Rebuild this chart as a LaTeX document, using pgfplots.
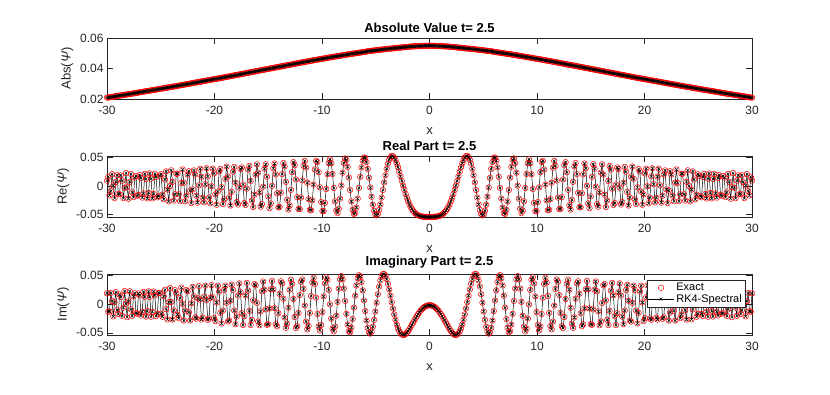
\documentclass[border=0pt]{standalone}
\usepackage{fontspec}
\setmainfont{Liberation Sans}
\usepackage{pgfplots}
\usepackage{pgfplotstable}
\pgfplotsset{compat=1.18}
\definecolor{axgray}{RGB}{38,38,38}

% psi(x) at t = 2.5: x, |psi|, Re psi, Im psi
\pgfplotstableread{
x a re im
-30 0.0209 0.0094 0.0186
-29.8828 0.0210 0.0161 -0.0134
-29.7656 0.0211 -0.0167 -0.0129
-29.6484 0.0213 -0.0092 0.0192
-29.5313 0.0214 0.0208 0.0051
-29.4141 0.0215 0.0009 -0.0215
-29.2969 0.0217 -0.0215 0.0032
-29.1797 0.0218 0.0070 0.0206
-29.0625 0.0219 0.0192 -0.0107
-28.9453 0.0221 -0.0139 -0.0173
-28.8281 0.0222 -0.0148 0.0165
-28.7109 0.0223 0.0187 0.0122
-28.5938 0.0225 0.0093 -0.0205
-28.4766 0.0226 -0.0216 -0.0065
-28.3594 0.0227 -0.0034 0.0225
-28.2422 0.0229 0.0229 0.0006
-28.125 0.0230 -0.0022 -0.0229
-28.0078 0.0231 -0.0226 0.0047
-27.8906 0.0233 0.0072 0.0222
-27.7734 0.0234 0.0214 -0.0093
-27.6563 0.0235 -0.0114 -0.0206
-27.5391 0.0237 -0.0197 0.0132
-27.4219 0.0238 0.0148 0.0187
-27.3047 0.0239 0.0177 -0.0161
-27.1875 0.0241 -0.0173 -0.0167
-27.0703 0.0242 -0.0158 0.0183
-26.9531 0.0244 0.0192 0.0150
-26.8359 0.0245 0.0142 -0.0200
-26.7188 0.0246 -0.0206 -0.0135
-26.6016 0.0248 -0.0131 0.0211
-26.4844 0.0249 0.0215 0.0126
-26.3672 0.0251 0.0124 -0.0218
-26.25 0.0252 -0.0220 -0.0122
-26.1328 0.0253 -0.0123 0.0221
-26.0156 0.0255 0.0222 0.0125
-25.8984 0.0256 0.0129 -0.0221
-25.7813 0.0258 -0.0220 -0.0135
-25.6641 0.0259 -0.0141 0.0218
-25.5469 0.0260 0.0214 0.0150
-25.4297 0.0262 0.0159 -0.0209
-25.3125 0.0263 -0.0201 -0.0169
-25.1953 0.0265 -0.0182 0.0193
-25.0781 0.0266 0.0182 0.0195
-24.9609 0.0268 0.0208 -0.0169
-24.8438 0.0269 -0.0154 -0.0221
-24.7266 0.0270 -0.0235 0.0135
-24.6094 0.0272 0.0114 0.0247
-24.4922 0.0273 0.0258 -0.0090
-24.375 0.0275 -0.0063 -0.0268
-24.2578 0.0276 -0.0274 0.0032
-24.1406 0.0278 -0.0001 0.0278
-24.0234 0.0279 0.0276 0.0035
-23.9063 0.0280 0.0072 -0.0271
-23.7891 0.0282 -0.0260 -0.0110
-23.6719 0.0283 -0.0147 0.0241
-23.5547 0.0285 0.0218 0.0184
-23.4375 0.0286 0.0217 -0.0186
-23.3203 0.0288 -0.0148 -0.0247
-23.2031 0.0289 -0.0270 0.0103
-23.0859 0.0291 0.0053 0.0286
-22.9688 0.0292 0.0292 0.0002
-22.8516 0.0294 0.0059 -0.0288
-22.7344 0.0295 -0.0271 -0.0116
-22.6172 0.0297 -0.0171 0.0242
-22.5 0.0298 0.0201 0.0221
-22.3828 0.0300 0.0261 -0.0147
-22.2656 0.0301 -0.0083 -0.0289
-22.1484 0.0303 -0.0303 0.0013
-22.0313 0.0304 -0.0061 0.0298
-21.9141 0.0306 0.0275 0.0134
-21.7969 0.0307 0.0201 -0.0232
-21.6797 0.0309 -0.0172 -0.0256
-21.5625 0.0310 -0.0295 0.0097
-21.4453 0.0312 0.0012 0.0312
-21.3281 0.0313 0.0304 0.0078
-21.2109 0.0315 0.0164 -0.0270
-21.0938 0.0316 -0.0209 -0.0237
-20.9766 0.0318 -0.0291 0.0128
-20.8594 0.0319 0.0031 0.0318
-20.7422 0.0321 0.0313 0.0071
-20.625 0.0322 0.0169 -0.0274
-20.5078 0.0324 -0.0204 -0.0252
-20.3906 0.0325 -0.0306 0.0108
-20.2734 0.0327 -0.0005 0.0327
-20.1563 0.0328 0.0306 0.0119
-20.0391 0.0330 0.0222 -0.0245
-19.9219 0.0331 -0.0148 -0.0297
-19.8047 0.0333 -0.0332 0.0028
-19.6875 0.0334 -0.0099 0.0319
-19.5703 0.0336 0.0258 0.0216
-19.4531 0.0337 0.0300 -0.0154
-19.3359 0.0339 -0.0023 -0.0339
-19.2188 0.0340 -0.0320 -0.0115
-19.1016 0.0342 -0.0237 0.0246
-18.9844 0.0344 0.0126 0.0320
-18.8672 0.0345 0.0344 0.0021
-18.75 0.0347 0.0167 -0.0304
-18.6328 0.0348 -0.0202 -0.0284
-18.5156 0.0350 -0.0346 0.0057
-18.3984 0.0351 -0.0105 0.0335
-18.2813 0.0353 0.0253 0.0246
-18.1641 0.0355 0.0337 -0.0112
-18.0469 0.0356 0.0057 -0.0352
-17.9297 0.0358 -0.0284 -0.0218
-17.8125 0.0359 -0.0328 0.0146
-17.6953 0.0361 -0.0031 0.0359
-17.5781 0.0362 0.0299 0.0205
-17.4609 0.0364 0.0327 -0.0159
-17.3438 0.0366 0.0027 -0.0365
-17.2266 0.0367 -0.0302 -0.0210
-17.1094 0.0369 -0.0336 0.0150
-16.9922 0.0370 -0.0047 0.0367
-16.875 0.0372 0.0289 0.0234
-16.7578 0.0374 0.0354 -0.0120
-16.6406 0.0375 0.0090 -0.0365
-16.5234 0.0377 -0.0258 -0.0275
-16.4063 0.0378 -0.0373 0.0064
-16.2891 0.0380 -0.0155 0.0347
-16.1719 0.0382 0.0201 0.0325
-16.0547 0.0383 0.0382 0.0019
-15.9375 0.0385 0.0236 -0.0304
-15.8203 0.0386 -0.0111 -0.0369
-15.7031 0.0388 -0.0367 -0.0127
-15.5859 0.0390 -0.0321 0.0222
-15.4688 0.0391 -0.0013 0.0391
-15.3516 0.0393 0.0306 0.0247
-15.2344 0.0394 0.0383 -0.0093
-15.1172 0.0396 0.0162 -0.0361
-15 0.0397 -0.0184 -0.0352
-14.8828 0.0399 -0.0392 -0.0077
-14.7656 0.0401 -0.0307 0.0257
-14.6484 0.0402 0.0003 0.0402
-14.5313 0.0404 0.0312 0.0256
-14.4141 0.0405 0.0398 -0.0073
-14.2969 0.0407 0.0205 -0.0351
-14.1797 0.0409 -0.0130 -0.0387
-14.0625 0.0410 -0.0378 -0.0159
-13.9453 0.0412 -0.0373 0.0176
-13.8281 0.0413 -0.0120 0.0395
-13.7109 0.0415 0.0210 0.0357
-13.5938 0.0416 0.0406 0.0091
-13.4766 0.0418 0.0347 -0.0233
-13.3594 0.0420 0.0073 -0.0414
-13.2422 0.0421 -0.0246 -0.0342
-13.125 0.0423 -0.0418 -0.0065
-13.0078 0.0424 -0.0343 0.0249
-12.8906 0.0426 -0.0070 0.0421
-12.7734 0.0427 0.0243 0.0351
-12.6563 0.0429 0.0421 0.0087
-12.5391 0.0431 0.0367 -0.0226
-12.4219 0.0432 0.0115 -0.0417
-12.3047 0.0434 -0.0198 -0.0386
-12.1875 0.0435 -0.0407 -0.0155
-12.0703 0.0437 -0.0408 0.0155
-11.9531 0.0439 -0.0205 0.0388
-11.8359 0.0440 0.0099 0.0428
-11.7188 0.0442 0.0355 0.0263
-11.6016 0.0443 0.0442 -0.0027
-11.4844 0.0445 0.0324 -0.0305
-11.3672 0.0446 0.0057 -0.0442
-11.25 0.0448 -0.0234 -0.0383
-11.1328 0.0449 -0.0422 -0.0155
-11.0156 0.0451 -0.0430 0.0140
-10.8984 0.0452 -0.0255 0.0373
-10.7813 0.0454 0.0023 0.0454
-10.6641 0.0455 0.0291 0.0350
-10.5469 0.0457 0.0444 0.0109
-10.4297 0.0458 0.0424 -0.0174
-10.3125 0.0460 0.0244 -0.0390
-10.1953 0.0461 -0.0025 -0.0460
-10.0781 0.0463 -0.0285 -0.0365
-9.9609 0.0464 -0.0443 -0.0140
-9.8438 0.0465 -0.0445 0.0132
-9.7266 0.0467 -0.0299 0.0359
-9.6094 0.0468 -0.0054 0.0465
-9.4922 0.0470 0.0208 0.0421
-9.375 0.0471 0.0402 0.0245
-9.2578 0.0473 0.0473 -0.0006
-9.1406 0.0474 0.0401 -0.0253
-9.0234 0.0475 0.0212 -0.0426
-8.9063 0.0477 -0.0036 -0.0476
-8.7891 0.0478 -0.0272 -0.0393
-8.6719 0.0480 -0.0435 -0.0204
-8.5547 0.0481 -0.0480 0.0037
-8.4375 0.0482 -0.0402 0.0267
-8.3203 0.0484 -0.0224 0.0429
-8.2031 0.0485 0.0007 0.0485
-8.0859 0.0487 0.0235 0.0427
-7.9688 0.0488 0.0406 0.0270
-7.8516 0.0489 0.0486 0.0054
-7.7344 0.0491 0.0460 -0.0171
-7.6172 0.0492 0.0338 -0.0358
-7.5 0.0493 0.0147 -0.0471
-7.3828 0.0495 -0.0071 -0.0490
-7.2656 0.0496 -0.0274 -0.0413
-7.1484 0.0497 -0.0423 -0.0261
-7.0313 0.0498 -0.0494 -0.0063
-6.9141 0.0500 -0.0479 0.0144
-6.7969 0.0501 -0.0383 0.0323
-6.6797 0.0502 -0.0225 0.0449
-6.5625 0.0503 -0.0034 0.0502
-6.4453 0.0505 0.0161 0.0479
-6.3281 0.0506 0.0329 0.0385
-6.2109 0.0507 0.0448 0.0238
-6.0938 0.0508 0.0504 0.0061
-5.9766 0.0510 0.0495 -0.0122
-5.8594 0.0511 0.0423 -0.0288
-5.7422 0.0513 0.0300 -0.0416
-5.625 0.0514 0.0144 -0.0494
-5.5078 0.0515 -0.0026 -0.0515
-5.3906 0.0516 -0.0190 -0.0480
-5.2734 0.0517 -0.0332 -0.0396
-5.1563 0.0518 -0.0438 -0.0275
-5.0391 0.0519 -0.0502 -0.0131
-4.9219 0.0520 -0.0519 0.0022
-4.8047 0.0521 -0.0492 0.0171
-4.6875 0.0522 -0.0425 0.0303
-4.5703 0.0523 -0.0326 0.0409
-4.4531 0.0524 -0.0205 0.0482
-4.3359 0.0525 -0.0072 0.0520
-4.2188 0.0526 0.0062 0.0522
-4.1016 0.0527 0.0189 0.0492
-3.9844 0.0528 0.0302 0.0433
-3.8672 0.0529 0.0396 0.0351
-3.75 0.0530 0.0466 0.0253
-3.6328 0.0530 0.0510 0.0144
-3.5156 0.0531 0.0530 0.0033
-3.3984 0.0532 0.0527 -0.0078
-3.2813 0.0533 0.0501 -0.0181
-3.1641 0.0534 0.0458 -0.0275
-3.0469 0.0535 0.0400 -0.0356
-2.9297 0.0536 0.0331 -0.0422
-2.8125 0.0536 0.0253 -0.0473
-2.6953 0.0537 0.0172 -0.0508
-2.5781 0.0538 0.0090 -0.0531
-2.4609 0.0539 0.0009 -0.0539
-2.3438 0.0540 -0.0068 -0.0536
-2.2266 0.0541 -0.0141 -0.0522
-2.1094 0.0541 -0.0207 -0.0500
-1.9922 0.0542 -0.0268 -0.0471
-1.875 0.0543 -0.0321 -0.0438
-1.7578 0.0544 -0.0368 -0.0401
-1.6406 0.0544 -0.0406 -0.0362
-1.5234 0.0545 -0.0440 -0.0322
-1.4063 0.0545 -0.0466 -0.0282
-1.2891 0.0546 -0.0489 -0.0244
-1.1719 0.0546 -0.0506 -0.0208
-1.0547 0.0547 -0.0519 -0.0174
-0.9375 0.0547 -0.0528 -0.0143
-0.8203 0.0547 -0.0535 -0.0115
-0.7031 0.0548 -0.0541 -0.0090
-0.5859 0.0548 -0.0544 -0.0069
-0.4688 0.0548 -0.0545 -0.0052
-0.3516 0.0549 -0.0548 -0.0039
-0.2344 0.0549 -0.0548 -0.0028
-0.1172 0.0549 -0.0549 -0.0023
0 0.0549 -0.0548 -0.0021
0.1172 0.0549 -0.0549 -0.0023
0.2344 0.0549 -0.0548 -0.0028
0.3516 0.0549 -0.0548 -0.0039
0.4688 0.0548 -0.0545 -0.0052
0.5859 0.0548 -0.0544 -0.0069
0.7031 0.0548 -0.0541 -0.0090
0.8203 0.0547 -0.0535 -0.0115
0.9375 0.0547 -0.0528 -0.0143
1.0547 0.0547 -0.0519 -0.0174
1.1719 0.0546 -0.0506 -0.0208
1.2891 0.0546 -0.0489 -0.0244
1.4063 0.0545 -0.0466 -0.0282
1.5234 0.0545 -0.0440 -0.0322
1.6406 0.0544 -0.0406 -0.0362
1.7578 0.0544 -0.0368 -0.0401
1.875 0.0543 -0.0321 -0.0438
1.9922 0.0542 -0.0268 -0.0471
2.1094 0.0541 -0.0207 -0.0500
2.2266 0.0541 -0.0141 -0.0522
2.3438 0.0540 -0.0068 -0.0536
2.4609 0.0539 0.0009 -0.0539
2.5781 0.0538 0.0090 -0.0531
2.6953 0.0537 0.0172 -0.0508
2.8125 0.0536 0.0253 -0.0473
2.9297 0.0536 0.0331 -0.0422
3.0469 0.0535 0.0400 -0.0356
3.1641 0.0534 0.0458 -0.0275
3.2813 0.0533 0.0501 -0.0181
3.3984 0.0532 0.0527 -0.0078
3.5156 0.0531 0.0530 0.0033
3.6328 0.0530 0.0510 0.0144
3.75 0.0530 0.0466 0.0253
3.8672 0.0529 0.0396 0.0351
3.9844 0.0528 0.0302 0.0433
4.1016 0.0527 0.0189 0.0492
4.2188 0.0526 0.0062 0.0522
4.3359 0.0525 -0.0072 0.0520
4.4531 0.0524 -0.0205 0.0482
4.5703 0.0523 -0.0326 0.0409
4.6875 0.0522 -0.0425 0.0303
4.8047 0.0521 -0.0492 0.0171
4.9219 0.0520 -0.0519 0.0022
5.0391 0.0519 -0.0502 -0.0131
5.1563 0.0518 -0.0438 -0.0275
5.2734 0.0517 -0.0332 -0.0396
5.3906 0.0516 -0.0190 -0.0480
5.5078 0.0515 -0.0026 -0.0515
5.625 0.0514 0.0144 -0.0494
5.7422 0.0513 0.0300 -0.0416
5.8594 0.0511 0.0423 -0.0288
5.9766 0.0510 0.0495 -0.0122
6.0938 0.0508 0.0504 0.0061
6.2109 0.0507 0.0448 0.0238
6.3281 0.0506 0.0329 0.0385
6.4453 0.0505 0.0161 0.0479
6.5625 0.0503 -0.0034 0.0502
6.6797 0.0502 -0.0225 0.0449
6.7969 0.0501 -0.0383 0.0323
6.9141 0.0500 -0.0479 0.0144
7.0313 0.0498 -0.0494 -0.0063
7.1484 0.0497 -0.0423 -0.0261
7.2656 0.0496 -0.0274 -0.0413
7.3828 0.0495 -0.0071 -0.0490
7.5 0.0493 0.0147 -0.0471
7.6172 0.0492 0.0338 -0.0358
7.7344 0.0491 0.0460 -0.0171
7.8516 0.0489 0.0486 0.0054
7.9688 0.0488 0.0406 0.0270
8.0859 0.0487 0.0235 0.0427
8.2031 0.0485 0.0007 0.0485
8.3203 0.0484 -0.0224 0.0429
8.4375 0.0482 -0.0402 0.0267
8.5547 0.0481 -0.0480 0.0037
8.6719 0.0480 -0.0435 -0.0204
8.7891 0.0478 -0.0272 -0.0393
8.9063 0.0477 -0.0036 -0.0476
9.0234 0.0475 0.0212 -0.0426
9.1406 0.0474 0.0401 -0.0253
9.2578 0.0473 0.0473 -0.0006
9.375 0.0471 0.0402 0.0245
9.4922 0.0470 0.0208 0.0421
9.6094 0.0468 -0.0054 0.0465
9.7266 0.0467 -0.0299 0.0359
9.8438 0.0465 -0.0445 0.0132
9.9609 0.0464 -0.0443 -0.0140
10.0781 0.0463 -0.0285 -0.0365
10.1953 0.0461 -0.0025 -0.0460
10.3125 0.0460 0.0244 -0.0390
10.4297 0.0458 0.0424 -0.0174
10.5469 0.0457 0.0444 0.0109
10.6641 0.0455 0.0291 0.0350
10.7813 0.0454 0.0023 0.0454
10.8984 0.0452 -0.0255 0.0373
11.0156 0.0451 -0.0430 0.0140
11.1328 0.0449 -0.0422 -0.0155
11.25 0.0448 -0.0234 -0.0383
11.3672 0.0446 0.0057 -0.0442
11.4844 0.0445 0.0324 -0.0305
11.6016 0.0443 0.0442 -0.0027
11.7188 0.0442 0.0355 0.0263
11.8359 0.0440 0.0099 0.0428
11.9531 0.0439 -0.0205 0.0388
12.0703 0.0437 -0.0408 0.0155
12.1875 0.0435 -0.0407 -0.0155
12.3047 0.0434 -0.0198 -0.0386
12.4219 0.0432 0.0115 -0.0417
12.5391 0.0431 0.0367 -0.0226
12.6563 0.0429 0.0421 0.0087
12.7734 0.0427 0.0243 0.0351
12.8906 0.0426 -0.0070 0.0421
13.0078 0.0424 -0.0343 0.0249
13.125 0.0423 -0.0418 -0.0065
13.2422 0.0421 -0.0246 -0.0342
13.3594 0.0420 0.0073 -0.0414
13.4766 0.0418 0.0347 -0.0233
13.5938 0.0416 0.0406 0.0091
13.7109 0.0415 0.0210 0.0357
13.8281 0.0413 -0.0120 0.0395
13.9453 0.0412 -0.0373 0.0176
14.0625 0.0410 -0.0378 -0.0159
14.1797 0.0409 -0.0130 -0.0387
14.2969 0.0407 0.0205 -0.0351
14.4141 0.0405 0.0398 -0.0073
14.5313 0.0404 0.0312 0.0256
14.6484 0.0402 0.0003 0.0402
14.7656 0.0401 -0.0307 0.0257
14.8828 0.0399 -0.0392 -0.0077
15 0.0397 -0.0184 -0.0352
15.1172 0.0396 0.0162 -0.0361
15.2344 0.0394 0.0383 -0.0093
15.3516 0.0393 0.0306 0.0247
15.4688 0.0391 -0.0013 0.0391
15.5859 0.0390 -0.0321 0.0222
15.7031 0.0388 -0.0367 -0.0127
15.8203 0.0386 -0.0111 -0.0369
15.9375 0.0385 0.0236 -0.0304
16.0547 0.0383 0.0382 0.0019
16.1719 0.0382 0.0201 0.0325
16.2891 0.0380 -0.0155 0.0347
16.4063 0.0378 -0.0373 0.0064
16.5234 0.0377 -0.0258 -0.0275
16.6406 0.0375 0.0090 -0.0365
16.7578 0.0374 0.0354 -0.0120
16.875 0.0372 0.0289 0.0234
16.9922 0.0370 -0.0047 0.0367
17.1094 0.0369 -0.0336 0.0150
17.2266 0.0367 -0.0302 -0.0210
17.3438 0.0366 0.0027 -0.0365
17.4609 0.0364 0.0327 -0.0159
17.5781 0.0362 0.0299 0.0205
17.6953 0.0361 -0.0031 0.0359
17.8125 0.0359 -0.0328 0.0146
17.9297 0.0358 -0.0284 -0.0218
18.0469 0.0356 0.0057 -0.0352
18.1641 0.0355 0.0337 -0.0112
18.2813 0.0353 0.0253 0.0246
18.3984 0.0351 -0.0105 0.0335
18.5156 0.0350 -0.0346 0.0057
18.6328 0.0348 -0.0202 -0.0284
18.75 0.0347 0.0167 -0.0304
18.8672 0.0345 0.0344 0.0021
18.9844 0.0344 0.0126 0.0320
19.1016 0.0342 -0.0237 0.0246
19.2188 0.0340 -0.0320 -0.0115
19.3359 0.0339 -0.0023 -0.0339
19.4531 0.0337 0.0300 -0.0154
19.5703 0.0336 0.0258 0.0216
19.6875 0.0334 -0.0099 0.0319
19.8047 0.0333 -0.0332 0.0028
19.9219 0.0331 -0.0148 -0.0297
20.0391 0.0330 0.0222 -0.0245
20.1563 0.0328 0.0306 0.0119
20.2734 0.0327 -0.0005 0.0327
20.3906 0.0325 -0.0306 0.0108
20.5078 0.0324 -0.0204 -0.0252
20.625 0.0322 0.0169 -0.0274
20.7422 0.0321 0.0313 0.0071
20.8594 0.0319 0.0031 0.0318
20.9766 0.0318 -0.0291 0.0128
21.0938 0.0316 -0.0209 -0.0237
21.2109 0.0315 0.0164 -0.0270
21.3281 0.0313 0.0304 0.0078
21.4453 0.0312 0.0012 0.0312
21.5625 0.0310 -0.0295 0.0097
21.6797 0.0309 -0.0172 -0.0256
21.7969 0.0307 0.0201 -0.0232
21.9141 0.0306 0.0275 0.0134
22.0313 0.0304 -0.0061 0.0298
22.1484 0.0303 -0.0303 0.0013
22.2656 0.0301 -0.0083 -0.0289
22.3828 0.0300 0.0261 -0.0147
22.5 0.0298 0.0201 0.0221
22.6172 0.0297 -0.0171 0.0242
22.7344 0.0295 -0.0271 -0.0116
22.8516 0.0294 0.0059 -0.0288
22.9688 0.0292 0.0292 0.0002
23.0859 0.0291 0.0053 0.0286
23.2031 0.0289 -0.0270 0.0103
23.3203 0.0288 -0.0148 -0.0247
23.4375 0.0286 0.0217 -0.0186
23.5547 0.0285 0.0218 0.0184
23.6719 0.0283 -0.0147 0.0241
23.7891 0.0282 -0.0260 -0.0110
23.9063 0.0280 0.0072 -0.0271
24.0234 0.0279 0.0276 0.0035
24.1406 0.0278 -0.0001 0.0278
24.2578 0.0276 -0.0274 0.0032
24.375 0.0275 -0.0063 -0.0268
24.4922 0.0273 0.0258 -0.0090
24.6094 0.0272 0.0114 0.0247
24.7266 0.0270 -0.0235 0.0135
24.8438 0.0269 -0.0154 -0.0221
24.9609 0.0268 0.0208 -0.0169
25.0781 0.0266 0.0182 0.0195
25.1953 0.0265 -0.0182 0.0193
25.3125 0.0263 -0.0201 -0.0169
25.4297 0.0262 0.0159 -0.0209
25.5469 0.0260 0.0214 0.0150
25.6641 0.0259 -0.0141 0.0218
25.7813 0.0258 -0.0220 -0.0135
25.8984 0.0256 0.0129 -0.0221
26.0156 0.0255 0.0222 0.0125
26.1328 0.0253 -0.0123 0.0221
26.25 0.0252 -0.0220 -0.0122
26.3672 0.0251 0.0124 -0.0218
26.4844 0.0249 0.0215 0.0126
26.6016 0.0248 -0.0131 0.0211
26.7188 0.0246 -0.0206 -0.0135
26.8359 0.0245 0.0142 -0.0200
26.9531 0.0244 0.0192 0.0150
27.0703 0.0242 -0.0158 0.0183
27.1875 0.0241 -0.0173 -0.0167
27.3047 0.0239 0.0177 -0.0161
27.4219 0.0238 0.0148 0.0187
27.5391 0.0237 -0.0197 0.0132
27.6563 0.0235 -0.0114 -0.0206
27.7734 0.0234 0.0214 -0.0093
27.8906 0.0233 0.0072 0.0222
28.0078 0.0231 -0.0226 0.0047
28.125 0.0230 -0.0022 -0.0229
28.2422 0.0229 0.0229 0.0006
28.3594 0.0227 -0.0034 0.0225
28.4766 0.0226 -0.0216 -0.0065
28.5938 0.0225 0.0093 -0.0205
28.7109 0.0223 0.0187 0.0122
28.8281 0.0222 -0.0148 0.0165
28.9453 0.0221 -0.0139 -0.0173
29.0625 0.0219 0.0192 -0.0107
29.1797 0.0218 0.0070 0.0206
29.2969 0.0217 -0.0215 0.0032
29.4141 0.0215 0.0009 -0.0215
29.5313 0.0214 0.0208 0.0051
29.6484 0.0213 -0.0092 0.0192
29.7656 0.0211 -0.0167 -0.0129
29.8828 0.0210 0.0161 -0.0134
30 0.0209 0.0094 0.0186
}\psidata

\pgfplotsset{
  panel/.style={
    scale only axis, width=645pt, height=61pt, anchor=south west,
    xmin=-30, xmax=30, xtick={-30,-20,...,30},
    axis line style={axgray, line width=0.5pt},
    every tick/.style={axgray, line width=0.5pt},
    major tick length=6pt, tick align=inside,
    /pgf/number format/assume math mode=true,
    tick label style={font=\fontsize{12}{14}\selectfont, text=axgray},
    xticklabel style={yshift=-4pt},
    label style={font=\fontsize{13}{15}\selectfont, text=axgray},
    xlabel style={yshift=-6pt},
    title style={font=\bfseries\fontsize{13}{15}\selectfont, yshift=-4pt},
    scaled y ticks=false,
    yticklabel style={/pgf/number format/fixed, /pgf/number format/precision=2},
    xlabel={x}, clip=false,
  },
  exact/.style={only marks, mark=o, mark size=2.8pt, red, mark options={line width=0.5pt}},
  rk/.style={black, line width=0.5pt, mark=x, mark size=2pt},
}

\begin{document}
\begin{tikzpicture}
\path[use as bounding box] (0pt,0pt) rectangle (830pt,395pt);

\begin{axis}[panel, at={(107pt,296pt)},
  ymin=0.02, ymax=0.06, ytick={0.02,0.04,0.06},
  ylabel={Abs(\textit{Ψ})}, title={Absolute Value t= 2.5}]
\addplot[exact] table[x=x, y=a] {\psidata};
\addplot[rk] table[x=x, y=a] {\psidata};
\end{axis}

\begin{axis}[panel, at={(107pt,178pt)},
  ymin=-0.0549, ymax=0.0530, ytick={-0.05,0,0.05},
  ylabel={Re(\textit{Ψ})}, title={Real Part t= 2.5}]
\addplot[exact] table[x=x, y=re] {\psidata};
\addplot[rk] table[x=x, y=re] {\psidata};
\end{axis}

\begin{axis}[panel, at={(107pt,60pt)},
  ymin=-0.0539, ymax=0.0522, ytick={-0.05,0,0.05},
  ylabel={Im(\textit{Ψ})}, title={Imaginary Part t= 2.5},
  legend style={at={(1,1)}, anchor=north east, xshift=-7pt, yshift=-6pt,
    font=\fontsize{11}{13}\selectfont, draw=axgray, line width=0.5pt,
    fill=white, inner sep=1pt, row sep=-2pt},
  legend cell align=left]
\addplot[exact, legend image code/.code={
  \draw[red, line width=0.5pt, only marks, mark=o, mark size=2.8pt, mark repeat=2, mark phase=2]
    plot coordinates {(0pt,0pt) (13pt,0pt) (26pt,0pt)};}]
  table[x=x, y=im] {\psidata};
\addlegendentry{Exact}
\addplot[rk, legend image code/.code={
  \draw[black, line width=0.5pt, mark=x, mark size=2pt, mark repeat=2, mark phase=2]
    plot coordinates {(0pt,0pt) (13pt,0pt) (26pt,0pt)};}]
  table[x=x, y=im] {\psidata};
\addlegendentry{RK4-Spectral}
\end{axis}
\end{tikzpicture}
\end{document}
